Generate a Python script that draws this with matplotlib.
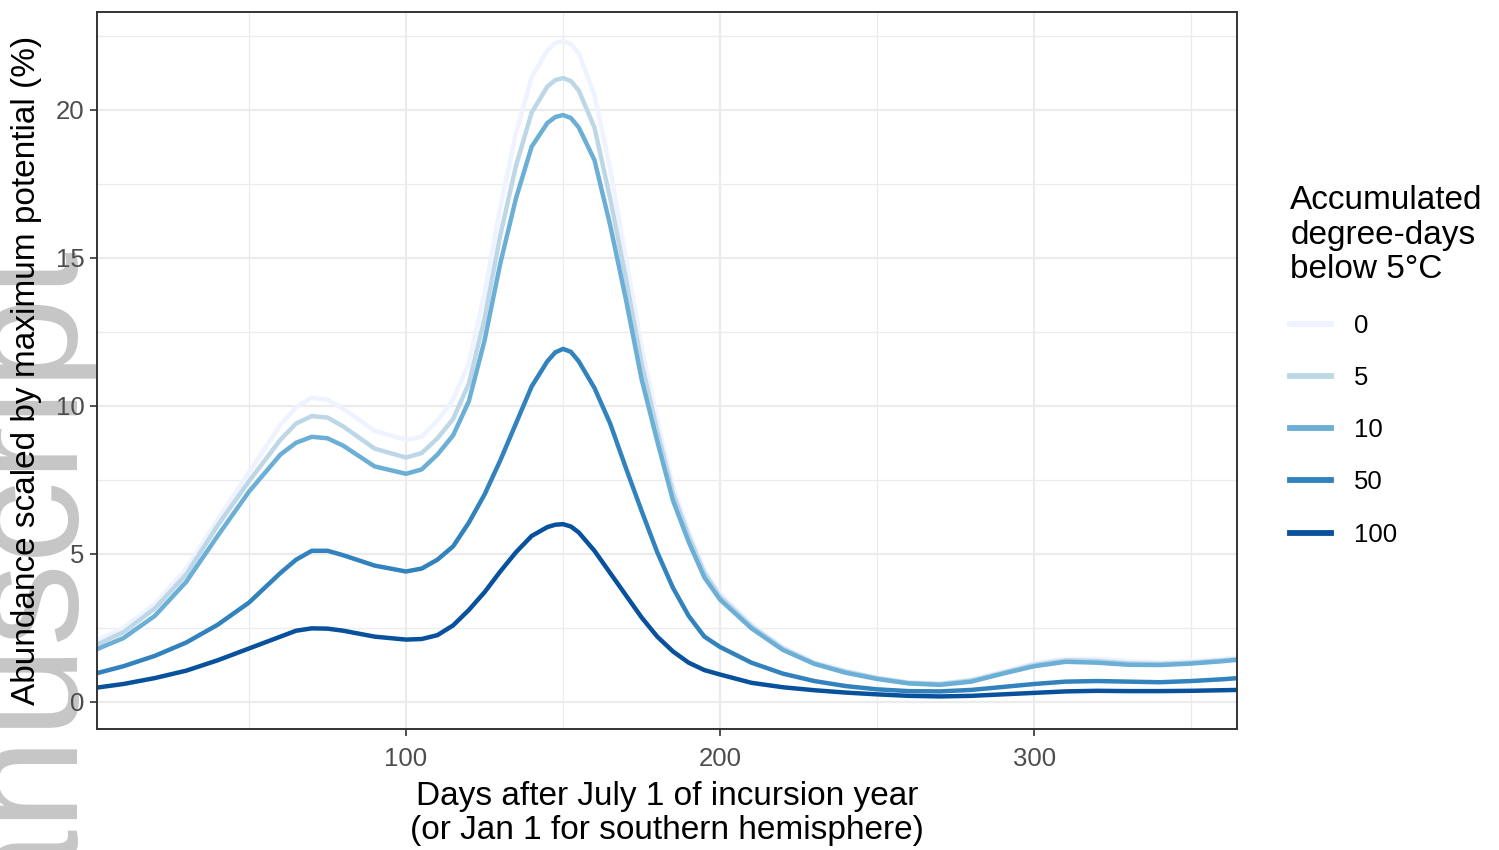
import numpy as np
import matplotlib
matplotlib.use("Agg")
import matplotlib.pyplot as plt

# -- Daten --
days = [1, 10, 20, 30, 40, 50, 60, 65, 70, 75, 80, 90, 100, 105, 110, 115, 120,
        125, 130, 135, 140, 145, 147.5, 150, 152.5, 155, 160, 165, 170, 175, 180,
        185, 190, 195, 200, 210, 220, 230, 240, 250, 260, 270, 280, 290, 300,
        310, 320, 330, 340, 350, 360, 365]

dd_0 = [2.05, 2.5, 3.3, 4.5, 6.15, 7.75, 9.35, 9.95, 10.27, 10.2, 9.9, 9.15, 8.85,
        8.95, 9.5, 10.2, 11.45, 13.8, 16.7, 19.2, 21.1, 22.0, 22.25, 22.32, 22.22,
        21.9, 20.5, 18.0, 15.0, 12.0, 9.5, 7.3, 5.75, 4.45, 3.65, 2.62, 1.85,
        1.35, 1.05, 0.82, 0.66, 0.62, 0.75, 1.02, 1.3, 1.45, 1.45, 1.37, 1.33,
        1.37, 1.45, 1.5]

dd_5 = [1.9, 2.35, 3.15, 4.3, 5.95, 7.45, 8.85, 9.4, 9.65, 9.6, 9.3, 8.55, 8.25,
        8.4, 8.9, 9.55, 10.75, 12.95, 15.75, 18.1, 19.9, 20.78, 21.0, 21.07, 20.97,
        20.65, 19.4, 17.0, 14.3, 11.45, 9.15, 7.05, 5.6, 4.35, 3.55, 2.55, 1.8,
        1.3, 1.02, 0.8, 0.64, 0.6, 0.72, 0.98, 1.25, 1.4, 1.38, 1.3, 1.28,
        1.32, 1.4, 1.45]

dd_10 = [1.75, 2.15, 2.9, 4.05, 5.6, 7.1, 8.35, 8.75, 8.95, 8.9, 8.65, 7.95, 7.7,
         7.85, 8.35, 9.0, 10.15, 12.2, 14.8, 17.0, 18.75, 19.55, 19.75, 19.82, 19.72,
         19.4, 18.3, 16.1, 13.6, 10.9, 8.8, 6.8, 5.4, 4.2, 3.45, 2.48, 1.75,
         1.28, 0.98, 0.77, 0.62, 0.57, 0.68, 0.95, 1.2, 1.35, 1.32, 1.25, 1.24,
         1.29, 1.37, 1.42]

dd_50 = [0.95, 1.2, 1.55, 2.0, 2.6, 3.35, 4.35, 4.8, 5.1, 5.1, 4.95, 4.6, 4.4,
         4.5, 4.8, 5.25, 6.05, 7.0, 8.15, 9.4, 10.65, 11.5, 11.8, 11.92, 11.82,
         11.5, 10.6, 9.4, 7.9, 6.45, 5.05, 3.85, 2.9, 2.2, 1.85, 1.32, 0.95,
         0.7, 0.53, 0.42, 0.36, 0.35, 0.4, 0.5, 0.6, 0.68, 0.7, 0.68, 0.66,
         0.7, 0.76, 0.8]

dd_100 = [0.47, 0.6, 0.8, 1.05, 1.4, 1.8, 2.2, 2.4, 2.48, 2.47, 2.4, 2.2, 2.1,
          2.12, 2.25, 2.58, 3.1, 3.7, 4.4, 5.05, 5.6, 5.9, 5.98, 6.0, 5.92,
          5.72, 5.1, 4.35, 3.6, 2.85, 2.2, 1.7, 1.32, 1.07, 0.92, 0.64, 0.49,
          0.39, 0.31, 0.25, 0.2, 0.18, 0.2, 0.25, 0.3, 0.35, 0.37, 0.36, 0.36,
          0.37, 0.39, 0.4]

labels = ["0", "5", "10", "50", "100"]
colors = ["#EFF3FF", "#BDD7E7", "#6BAED6", "#3182BD", "#08519C"]
series = [dd_0, dd_5, dd_10, dd_50, dd_100]

plt.rcParams['font.family'] = ['Liberation Sans', 'DejaVu Sans']

fig = plt.figure(figsize=(14.99, 8.5), dpi=100)
ax = fig.add_axes([97 / 1499, 1 - 729 / 850, (1237 - 97) / 1499, (729 - 12) / 850])

# Wasserzeichen am linken Rand (hinter allem)
fig.text(65 / 1499, 1 - 237 / 850, "Manuscript", rotation=90, rotation_mode='anchor',
         ha='right', va='baseline', fontsize=119, color='#C6C6C6', zorder=-1)

for vals, col, lab in zip(series, colors, labels):
    ax.plot(days, vals, color=col, lw=3.2, label=lab, solid_joinstyle='round')

ax.set_xlim(1.6, 364.6)
ax.set_ylim(-0.92, 23.3)
ax.set_xticks([100, 200, 300])
ax.set_xticks([50, 150, 250, 350], minor=True)
ax.set_yticks([0, 5, 10, 15, 20])
ax.set_yticks([2.5, 7.5, 12.5, 17.5, 22.5], minor=True)
ax.grid(which='major', color='#EBEBEB', lw=1.6)
ax.grid(which='minor', color='#EBEBEB', lw=0.9)
ax.set_axisbelow(True)
ax.tick_params(which='major', length=5, width=1.2, color='#333333',
               labelsize=18.5, labelcolor='#4D4D4D')
ax.tick_params(axis='x', pad=8)
ax.tick_params(axis='y', pad=4)
ax.tick_params(which='minor', length=0)
for sp in ax.spines.values():
    sp.set_color('#333333')
    sp.set_linewidth(1.4)

ax.set_xlabel("Days after July 1 of incursion year\n(or Jan 1 for southern hemisphere)",
              fontsize=24, linespacing=1.15, labelpad=7)
ax.set_ylabel("Abundance scaled by maximum potential (%)", fontsize=24, labelpad=10)

leg = fig.legend(loc='upper left', bbox_to_anchor=(1267 / 1499, 1 - 162 / 850),
                 frameon=False, title="Accumulated\ndegree-days\nbelow 5°C",
                 title_fontsize=24, fontsize=18.5, handlelength=1.6,
                 handletextpad=0.9, labelspacing=1.1, alignment='left')
leg.get_title().set_linespacing(1.15)
for h in leg.get_lines():
    h.set_linewidth(4.2)

fig.savefig("out.png", dpi=100)
